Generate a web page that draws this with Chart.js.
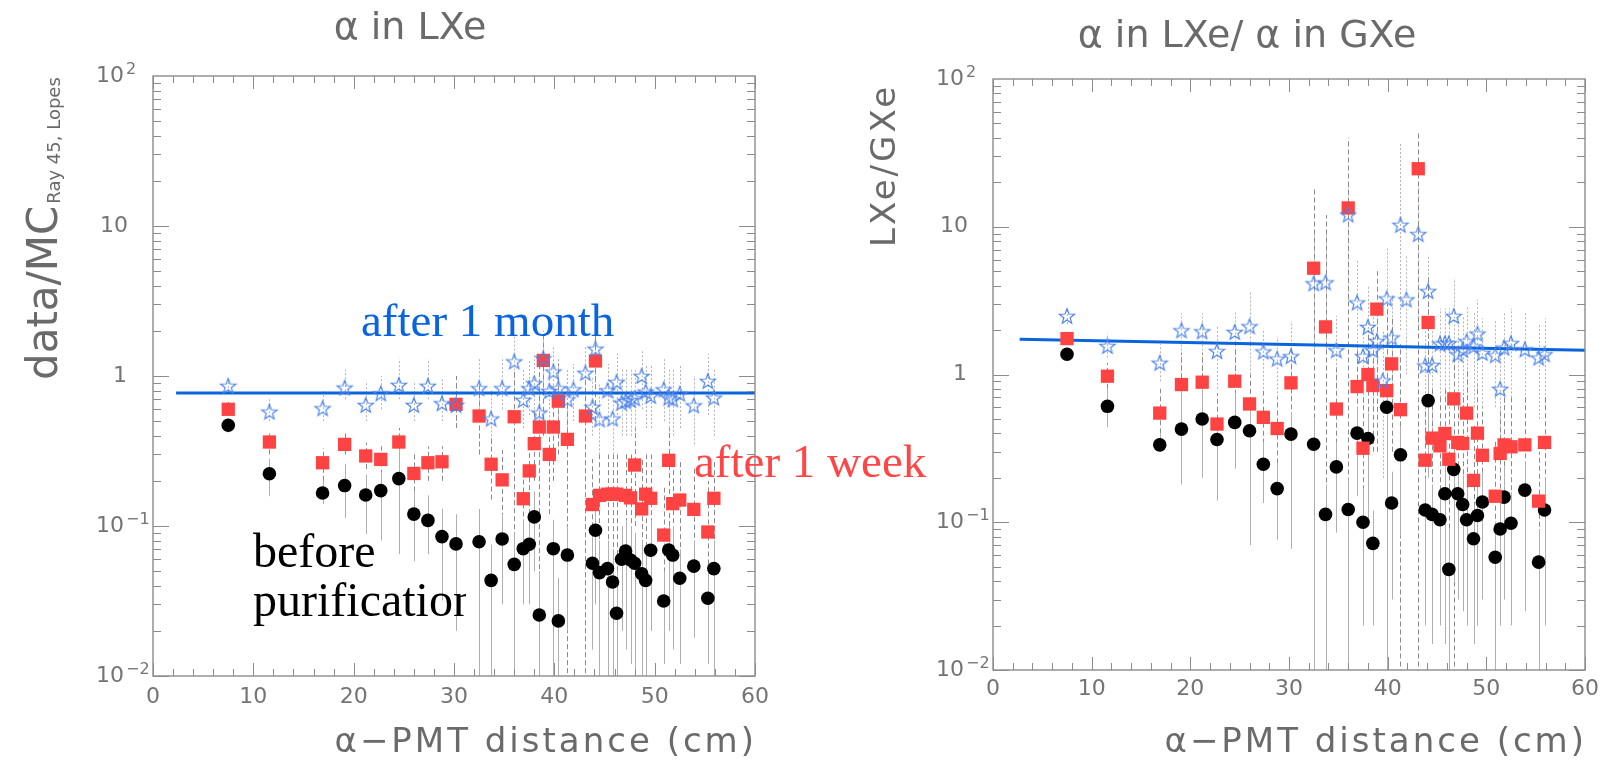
<!DOCTYPE html>
<html>
<head>
<meta charset="utf-8">
<script src="https://cdn.jsdelivr.net/npm/chart.js@4/dist/chart.umd.min.js"></script>
<style>
html, body { margin: 0; padding: 0; background: #fff; }
#wrap { position: relative; width: 1608px; height: 766px; }
#wrap canvas { position: absolute; left: 0; top: 0; }
</style>
</head>
<body>
<div id="wrap">
  <canvas id="lxe" width="1608" height="766"></canvas>
  <canvas id="ratio" width="1608" height="766"></canvas>
</div>
<script>
// alpha source positions (cm), shared by both panels
var distance = [7.5, 11.6, 16.9, 19.1, 21.2, 22.7, 24.5, 26.0, 27.4, 28.8, 30.2, 32.5, 33.7, 34.8, 36.0, 36.9,
  37.5, 38.0, 38.5, 38.9, 39.5, 39.9, 40.4, 41.3, 41.9, 43.1, 43.8, 44.1, 44.5, 45.3, 45.8, 46.2,
  46.7, 47.1, 47.6, 48.0, 48.7, 49.1, 49.6, 50.9, 51.4, 51.8, 52.5, 53.9, 55.3, 55.9];

var xTicks = [0, 10, 20, 30, 40, 50, 60];
var yTicks = [0.01, 0.1, 1, 10, 100];
var yTickBase = ['10', '10', '1', '10', '10'];
var yTickExp = ['\u22122', '\u22121', '', '', '2'];

// ---- left: alpha in LXe, data / MC ----
var lxeBefore = [0.47, 0.223, 0.166, 0.186, 0.161, 0.172, 0.207, 0.12, 0.109, 0.085, 0.076, 0.0786, 0.0434, 0.082, 0.0555, 0.0706,
  0.0755, 0.115, 0.0255, null, null, 0.0706, 0.0233, 0.064, null, null, 0.0564, 0.0936, 0.0489, 0.052, 0.0423, 0.0262,
  0.06, 0.068, 0.0593, 0.0564, 0.0481, 0.0434, 0.0689, 0.0316, 0.0692, 0.064, 0.0448, 0.054, 0.033, 0.052];
var lxeBeforeLo = [0.42, 0.158, 0.14, 0.113, 0.088, 0.08, 0.065, 0.058, 0.065, 0.032, 0.02, 0.005, 0.005, 0.03, 0.005, 0.03,
  0.03, 0.05, 0.005, null, null, 0.005, 0.005, 0.02, null, null, 0.015, 0.03, 0.005, 0.01, 0.005, 0.005,
  0.02, 0.015, 0.012, 0.005, 0.005, 0.01, 0.02, 0.012, 0.02, 0.015, 0.012, 0.018, 0.012, 0.01];
var lxeBeforeHi = [0.52, 0.28, 0.2, 0.26, 0.22, 0.23, 0.35, 0.17, 0.16, 0.13, 0.12, 0.13, 0.075, 0.12, 0.09, 0.11,
  0.11, 0.17, 0.05, null, null, 0.11, 0.045, 0.1, null, null, 0.09, 0.14, 0.08, 0.08, 0.07, 0.05,
  0.1, 0.11, 0.1, 0.09, 0.08, 0.07, 0.11, 0.05, 0.1, 0.1, 0.07, 0.08, 0.05, 0.08];

var lxeWeek = [0.60, 0.363, 0.264, 0.35, 0.293, 0.278, 0.363, 0.224, 0.264, 0.268, 0.647, 0.541, 0.258, 0.203, 0.535, 0.152,
  0.233, 0.354, 0.457, 1.27, 0.30, 0.457, 0.68, 0.378, null, 0.541, 0.139, 1.26, 0.16, 0.163, 0.163, 0.163,
  null, 0.16, 0.154, 0.255, 0.13, 0.163, 0.153, 0.087, 0.274, 0.141, 0.149, 0.129, 0.0912, 0.153];
var lxeWeekLo = [0.55, 0.3, 0.2, 0.3, 0.24, 0.22, 0.3, 0.17, 0.2, 0.2, 0.45, 0.3, 0.15, 0.1, 0.005, 0.08,
  0.12, 0.2, 0.005, 0.4, 0.12, 0.2, 0.3, 0.005, null, 0.005, 0.06, 0.5, 0.05, 0.05, 0.05, 0.05,
  null, 0.05, 0.05, 0.1, 0.005, 0.05, 0.05, 0.03, 0.1, 0.05, 0.05, 0.04, 0.03, 0.05];
var lxeWeekHi = [0.68, 0.42, 0.33, 0.42, 0.36, 0.34, 0.45, 0.3, 0.34, 0.34, 1.0, 0.9, 0.4, 0.32, 1.1, 0.25,
  0.38, 0.6, 1.2, 2.0, 0.5, 0.8, 1.2, 0.65, null, 1.0, 0.28, 1.9, 0.3, 0.3, 0.3, 0.3,
  null, 0.3, 0.3, 0.45, 0.28, 0.3, 0.3, 0.18, 0.45, 0.28, 0.28, 0.25, 0.2, 0.28];

var lxeMonth = [0.86, 0.578, 0.609, 0.836, 0.641, 0.766, 0.871, 0.641, 0.86, 0.658, 0.641, 0.828, 0.52, 0.828, 1.25, 0.692,
  0.828, 0.894, 0.57, 1.31, 0.794, 1.07, 0.828, 0.699, 0.815, 1.05, 0.621, 1.52, 0.514, 0.802, 0.52, 0.912,
  0.664, 0.681, 0.692, 0.71, 1.0, 0.787, 0.736, 0.815, 0.717, 0.699, 0.762, 0.637, 0.926, 0.717];
var lxeMonthLo = [0.78, 0.5, 0.5, 0.7, 0.5, 0.6, 0.7, 0.5, 0.7, 0.5, 0.5, 0.6, 0.35, 0.6, 0.8, 0.45,
  0.55, 0.6, 0.35, 0.8, 0.5, 0.6, 0.5, 0.45, 0.5, 0.6, 0.4, 0.9, 0.3, 0.5, 0.3, 0.55,
  0.4, 0.4, 0.4, 0.4, 0.6, 0.45, 0.45, 0.5, 0.4, 0.4, 0.45, 0.35, 0.55, 0.4];
var lxeMonthHi = [0.95, 0.7, 0.8, 1.1, 0.9, 1.0, 1.3, 0.9, 1.3, 0.95, 0.9, 1.3, 0.8, 1.3, 1.9, 1.1,
  1.3, 1.4, 1.0, 1.9, 1.2, 1.6, 1.3, 1.1, 1.2, 1.6, 1.0, 2.0, 0.9, 1.2, 0.9, 1.4,
  1.1, 1.1, 1.1, 1.1, 1.5, 1.2, 1.2, 1.3, 1.1, 1.1, 1.2, 1.0, 1.4, 1.1];

var lxeFitX = [2.3, 60];
var lxeFitY = [0.77, 0.77];

// ---- right: LXe / GXe ----
var ratioBefore = [1.37, 0.609, 0.334, 0.427, 0.50, 0.363, 0.474, 0.416, 0.247, 0.169, 0.395, 0.337, 0.113, 0.237, 0.122, 0.401,
  0.10, 0.369, 0.072, null, null, 0.60, 0.135, 0.286, null, null, 0.121, 0.666, 0.113, 0.104, 0.156, 0.048,
  0.228, 0.156, 0.132, 0.104, 0.0774, 0.111, 0.137, 0.058, 0.0901, 0.148, 0.0985, 0.165, 0.0537, 0.121];
var ratioBeforeLo = [1.3, 0.44, 0.3, 0.18, 0.2, 0.14, 0.23, 0.07, 0.135, 0.076, 0.066, 0.005, 0.005, 0.085, 0.005, 0.15,
  0.02, 0.1, 0.02, null, null, 0.005, 0.03, 0.08, null, null, 0.02, 0.2, 0.015, 0.02, 0.015, 0.005,
  0.04, 0.03, 0.025, 0.02, 0.015, 0.02, 0.03, 0.01, 0.02, 0.03, 0.02, 0.025, 0.01, 0.02];
var ratioBeforeHi = [1.45, 0.8, 0.4, 0.78, 0.8, 0.5, 0.75, 0.6, 0.35, 0.25, 0.55, 0.5, 0.18, 0.35, 0.2, 0.6,
  0.17, 0.55, 0.12, null, null, 0.9, 0.22, 0.45, null, null, 0.2, 1.0, 0.18, 0.17, 0.25, 0.09,
  0.36, 0.25, 0.21, 0.17, 0.13, 0.18, 0.22, 0.1, 0.15, 0.24, 0.16, 0.26, 0.09, 0.2];

var ratioWeek = [1.75, 0.974, 0.548, 0.855, 0.887, 0.462, 0.901, 0.632, 0.513, 0.431, 0.878, 5.24, 2.10, 0.584, 13.4, 0.829,
  0.317, 1.0, 0.842, 2.77, null, 0.778, 1.18, 0.578, null, 24.7, 0.263, 2.25, 0.371, 0.329, 0.399, 0.267,
  0.684, 0.347, 0.341, 0.548, 0.192, 0.401, 0.284, 0.150, 0.292, 0.334, 0.324, 0.334, 0.139, 0.347];
var ratioWeekLo = [1.6, 0.8, 0.4, 0.5, 0.5, 0.3, 0.5, 0.35, 0.3, 0.25, 0.4, 0.005, 0.005, 0.3, 0.005, 0.3,
  0.1, 0.3, 0.3, 0.3, null, 0.005, 0.3, 0.005, null, 0.005, 0.08, 0.5, 0.1, 0.1, 0.1, 0.08,
  0.005, 0.1, 0.1, 0.15, 0.06, 0.1, 0.08, 0.05, 0.08, 0.1, 0.1, 0.1, 0.05, 0.1];
var ratioWeekHi = [1.9, 1.2, 0.8, 1.4, 1.4, 0.75, 1.5, 1.0, 0.8, 0.7, 1.5, 18.7, 12, 1.1, 40, 1.6,
  0.7, 2.0, 1.8, 5.0, null, 3.0, 2.5, 1.6, null, 44, 0.6, 4.5, 0.8, 0.7, 0.8, 0.6,
  1.5, 0.75, 0.75, 1.1, 0.45, 0.85, 0.6, 0.35, 0.6, 0.7, 0.7, 0.7, 0.3, 0.7];

var ratioMonth = [2.49, 1.56, 1.2, 1.99, 1.96, 1.44, 1.94, 2.12, 1.43, 1.28, 1.33, 4.14, 4.2, 1.46, 12.1, 3.07,
  1.33, 2.1, 1.46, 1.69, 0.91, 3.27, 1.78, 10.3, 3.22, 8.92, 1.15, 3.67, 1.16, 1.62, 1.63, 1.63,
  2.49, 1.37, 1.47, 1.68, 1.55, 1.89, 1.40, 1.35, 0.80, 1.52, 1.63, 1.48, 1.30, 1.37];
var ratioMonthLo = [2.2, 1.3, 0.9, 1.0, 1.0, 0.8, 1.0, 1.0, 0.8, 0.7, 0.7, 1.5, 1.5, 0.8, 3.0, 1.2,
  0.6, 0.8, 0.6, 0.8, 0.2, 1.0, 0.7, 2.0, 1.0, 2.0, 0.4, 1.2, 0.4, 0.7, 0.7, 0.7,
  1.0, 0.6, 0.6, 0.7, 0.6, 0.8, 0.6, 0.6, 0.3, 0.6, 0.7, 0.6, 0.5, 0.6];
var ratioMonthHi = [2.8, 1.9, 1.6, 2.6, 2.6, 2.1, 2.7, 3.6, 2.0, 1.8, 2.3, 9.0, 9.0, 2.5, 20, 6.0,
  2.2, 4.0, 2.5, 3.0, 2.0, 7.3, 3.5, 37, 6.5, 20, 2.0, 6.5, 2.0, 2.8, 2.8, 2.8,
  4.5, 2.4, 2.5, 2.9, 2.6, 3.2, 2.4, 2.3, 1.6, 2.6, 2.8, 2.6, 2.2, 2.4];

var ratioFitX = [2.7, 60];
var ratioFitY = [1.73, 1.46];

var AXIS_GREY = '#747474';
var SANS = '"DejaVu Sans", sans-serif';
var SERIF = '"Liberation Serif", "Times New Roman", serif';

function points(ys) {
  var out = [];
  for (var i = 0; i < distance.length; i++) {
    if (ys[i] !== null) out.push({ x: distance[i], y: ys[i] });
  }
  return out;
}

function pairs(xs, ys) {
  return xs.map(function (x, i) { return { x: x, y: ys[i] }; });
}

// open five-pointed star marker
function starMarker(color) {
  var c = document.createElement('canvas');
  c.width = 20; c.height = 20;
  var g = c.getContext('2d');
  g.strokeStyle = color;
  g.lineWidth = 1.15;
  g.beginPath();
  for (var k = 0; k < 10; k++) {
    var r = k % 2 ? 3.3 : 8.0;
    var a = -Math.PI / 2 + k * Math.PI / 5;
    g.lineTo(10 + r * Math.cos(a), 10.7 + r * Math.sin(a));
  }
  g.closePath();
  g.stroke();
  return c;
}
var star = starMarker('#4a82ee');

// vertical error bars, drawn under the markers
var errorBars = {
  id: 'errorBars',
  beforeDatasetsDraw: function (chart) {
    var ctx = chart.ctx, a = chart.chartArea;
    var xs = chart.scales.x, ys = chart.scales.y;
    ctx.save();
    ctx.beginPath();
    ctx.rect(a.left, a.top, a.right - a.left, a.bottom - a.top);
    ctx.clip();
    chart.data.datasets.forEach(function (ds) {
      if (!ds.errLo) return;
      ctx.strokeStyle = ds.errColor;
      ctx.lineWidth = 1;
      ctx.setLineDash(ds.errDash);
      for (var i = 0; i < distance.length; i++) {
        if (ds.errLo[i] == null) continue;
        var px = Math.round(xs.getPixelForValue(distance[i])) + 0.5;
        ctx.beginPath();
        ctx.moveTo(px, ys.getPixelForValue(ds.errLo[i]));
        ctx.lineTo(px, ys.getPixelForValue(ds.errHi[i]));
        ctx.stroke();
      }
    });
    ctx.restore();
  }
};

// ROOT style frame: box, inward ticks on all sides, log labels, titles, notes
function framePlugin(cfg) {
  return {
    id: 'frame',
    afterDatasetsDraw: function (chart) {
      var ctx = chart.ctx, a = chart.chartArea;
      var xs = chart.scales.x, ys = chart.scales.y;
      ctx.save();
      ctx.strokeStyle = '#8c8c8c';
      ctx.lineWidth = 1.4;
      ctx.strokeRect(a.left, a.top, a.right - a.left, a.bottom - a.top);

      ctx.lineWidth = 1;
      ctx.beginPath();
      for (var v = 0; v <= 60; v += 2) {
        var px = Math.round(xs.getPixelForValue(v)) + 0.5;
        var len = v % 10 === 0 ? 13 : 7;
        ctx.moveTo(px, a.bottom); ctx.lineTo(px, a.bottom - len);
        ctx.moveTo(px, a.top); ctx.lineTo(px, a.top + len);
      }
      for (var d = 0.01; d < 100; d *= 10) {
        for (var m = 1; m < 10; m++) {
          var py = Math.round(ys.getPixelForValue(d * m)) + 0.5;
          var l = m === 1 ? 16 : 8;
          ctx.moveTo(a.left, py); ctx.lineTo(a.left + l, py);
          ctx.moveTo(a.right, py); ctx.lineTo(a.right - l, py);
        }
      }
      ctx.stroke();

      // y tick labels 10^n
      ctx.fillStyle = AXIS_GREY;
      for (var i = 0; i < yTicks.length; i++) {
        var ty = ys.getPixelForValue(yTicks[i]);
        ctx.font = '22px ' + SANS;
        ctx.textBaseline = 'middle';
        if (yTickExp[i]) {
          ctx.textAlign = 'right';
          ctx.fillText(yTickBase[i], a.left - 29, ty);
          ctx.font = '16px ' + SANS;
          ctx.textAlign = 'left';
          ctx.textBaseline = 'alphabetic';
          ctx.fillText(yTickExp[i], a.left - 27, ty - 2);
        } else if (yTickBase[i] === '1') {
          ctx.textAlign = 'center';
          ctx.fillText(yTickBase[i], a.left - 33, ty);
        } else {
          ctx.textAlign = 'right';
          ctx.fillText(yTickBase[i], a.left - 25, ty);
        }
      }

      // panel title
      ctx.font = '38px ' + SANS;
      ctx.textAlign = 'center';
      ctx.textBaseline = 'alphabetic';
      ctx.fillStyle = '#6a6a6a';
      ctx.fillText(cfg.title, cfg.titleX, cfg.titleY);

      // x title, right aligned to the frame
      ctx.font = '34px ' + SANS;
      ctx.letterSpacing = '3px';
      ctx.textAlign = 'right';
      ctx.fillText('\u03b1\u2212PMT distance (cm)', a.right + 2, 752);

      // y title, rotated
      ctx.save();
      ctx.translate(cfg.yTitleX, cfg.yTitleY);
      ctx.rotate(-Math.PI / 2);
      ctx.textAlign = 'left';
      if (cfg.yTitleSub) {
        ctx.letterSpacing = '0px';
        ctx.font = '42px ' + SANS;
        ctx.fillText(cfg.yTitle, 0, 0);
        var w = ctx.measureText(cfg.yTitle).width;
        ctx.font = '18px ' + SANS;
        ctx.fillText(cfg.yTitleSub, w + 2, 3);
      } else {
        ctx.fillText(cfg.yTitle, 0, 0);
      }
      ctx.restore();
      ctx.letterSpacing = '0px';

      // notes
      (cfg.notes || []).forEach(function (n) {
        ctx.save();
        if (n.clip) {
          ctx.beginPath();
          ctx.rect(0, 0, n.clip, 766);
          ctx.clip();
        }
        ctx.font = n.size + 'px ' + SERIF;
        ctx.fillStyle = n.color;
        ctx.textAlign = 'left';
        ctx.textBaseline = 'alphabetic';
        ctx.fillText(n.text, n.x, n.y);
        ctx.restore();
      });
      ctx.restore();
    }
  };
}

function makeChart(id, series, fit, pad, xHeight, tickPad, cfg) {
  return new Chart(document.getElementById(id), {
    type: 'scatter',
    data: {
      datasets: [
        {
          label: 'after 1 month', data: points(series.month[0]), order: 1,
          pointStyle: star, pointRadius: 8,
          errLo: series.month[1], errHi: series.month[2], errColor: '#b4b4b4', errDash: [2, 2]
        },
        {
          label: 'after 1 week', data: points(series.week[0]), order: 2,
          pointStyle: 'rect', pointRadius: 9.4, backgroundColor: '#ff4242', borderWidth: 0,
          errLo: series.week[1], errHi: series.week[2], errColor: '#8a8a8a', errDash: [5, 3]
        },
        {
          label: 'before purification', data: points(series.before[0]), order: 3,
          pointStyle: 'circle', pointRadius: 6.8, backgroundColor: '#000', borderWidth: 0,
          errLo: series.before[1], errHi: series.before[2], errColor: '#b0b0b0', errDash: []
        },
        {
          type: 'line', label: 'fit', data: pairs(fit[0], fit[1]), order: 4,
          borderColor: '#0a64dc', borderWidth: 3, pointRadius: 0, showLine: true
        }
      ]
    },
    options: {
      responsive: false,
      animation: false,
      layout: { padding: pad },
      plugins: { legend: { display: false }, tooltip: { enabled: false } },
      scales: {
        x: {
          type: 'linear', position: 'bottom', min: 0, max: 60,
          afterBuildTicks: function (s) { s.ticks = xTicks.map(function (v) { return { value: v }; }); },
          ticks: { color: AXIS_GREY, font: { family: SANS, size: 22 }, padding: tickPad, maxRotation: 0, autoSkip: false },
          grid: { display: false, drawTicks: false },
          border: { display: false },
          afterFit: function (s) { s.height = xHeight; }
        },
        y: {
          type: 'logarithmic', min: 0.01, max: 100, display: false
        }
      }
    },
    plugins: [errorBars, framePlugin(cfg)]
  });
}

makeChart('lxe',
  { before: [lxeBefore, lxeBeforeLo, lxeBeforeHi], week: [lxeWeek, lxeWeekLo, lxeWeekHi], month: [lxeMonth, lxeMonthLo, lxeMonthHi] },
  [lxeFitX, lxeFitY],
  { left: 153, right: 853, top: 76, bottom: 0 }, 90, 8,
  {
    title: '\u03b1 in LXe', titleX: 410, titleY: 39,
    yTitle: 'data/MC', yTitleSub: 'Ray 45, Lopes', yTitleX: 57, yTitleY: 380,
    notes: [
      { text: 'after 1 month', x: 361, y: 336, size: 47, color: '#0a64e0' },
      { text: 'after 1 week', x: 694, y: 477, size: 47, color: '#ff4545' },
      { text: 'before', x: 253, y: 567, size: 48, color: '#000' },
      { text: 'purification', x: 253, y: 616, size: 48, color: '#000', clip: 466 }
    ]
  });

makeChart('ratio',
  { before: [ratioBefore, ratioBeforeLo, ratioBeforeHi], week: [ratioWeek, ratioWeekLo, ratioWeekHi], month: [ratioMonth, ratioMonthLo, ratioMonthHi] },
  [ratioFitX, ratioFitY],
  { left: 993, right: 23, top: 79, bottom: 0 }, 96, 6,
  {
    title: '\u03b1 in LXe/ \u03b1 in GXe', titleX: 1247, titleY: 47,
    yTitle: 'LXe/GXe', yTitleX: 895, yTitleY: 247
  });
</script>
</body>
</html>
